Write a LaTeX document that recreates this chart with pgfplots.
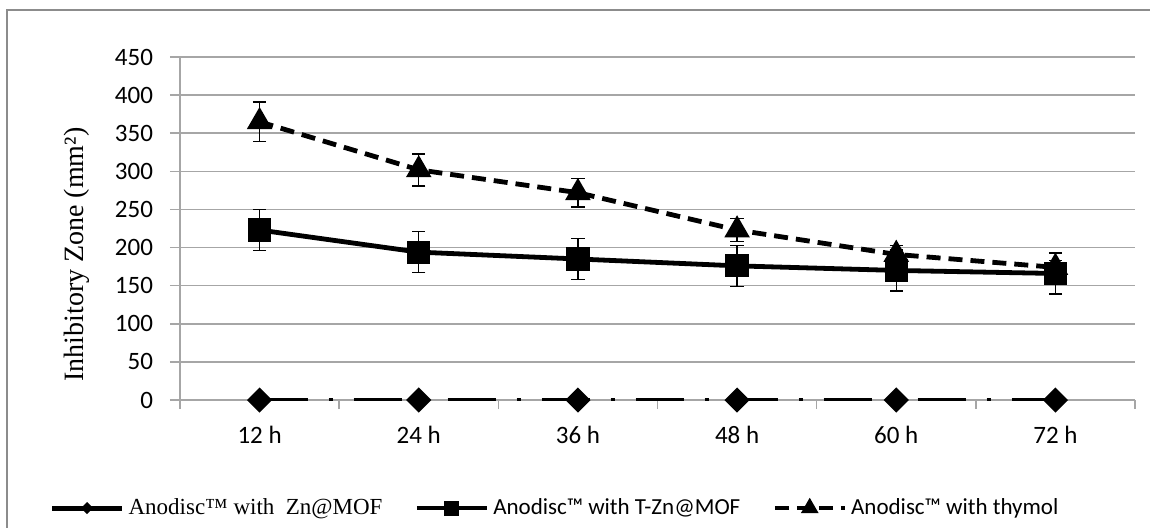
\documentclass[border=0pt]{standalone}
\usepackage{fontspec}
\setmainfont{Carlito}
\newfontfamily\timesfont{Liberation Serif}
\usepackage{pgfplots}
\pgfplotsset{compat=1.18}
\definecolor{gridgray}{HTML}{A6A6A6}
\definecolor{framegray}{HTML}{8C8C8C}
\begin{document}
\begin{tikzpicture}
\useasboundingbox (-90pt,-63.5pt) rectangle (485pt,200pt);
\draw[framegray, line width=1pt] (-86.5pt,-70pt) -- (-86.5pt,195pt) -- (490pt,195pt);
\begin{axis}[
  scale only axis, width=477.5pt, height=171.5pt,
  xmin=-0.5, xmax=5.5, ymin=0, ymax=450,
  axis x line*=bottom, axis y line*=left,
  axis line style={gridgray, line width=0.8pt, -},
  xtick={0,...,5}, xticklabels={12 h,24 h,36 h,48 h,60 h,72 h},
  minor xtick={-0.5,0.5,...,5.5},
  major x tick style={draw=none},
  minor x tick style={gridgray, line width=0.8pt},
  ytick={0,50,...,450},
  tick align=outside,
  major tick length=5pt, minor tick length=4.5pt,
  major y tick style={gridgray, line width=0.8pt},
  ymajorgrids, major grid style={gridgray, line width=0.8pt},
  tick label style={font=\fontsize{12.5}{15}\selectfont, /pgf/number format/assume math mode=true},
  xticklabel style={yshift=-4.5pt},
  yticklabel style={xshift=-5pt},
  ylabel={\timesfont\fontsize{14}{16}\selectfont Inhibitory Zone (mm²)},
  ylabel style={at={(axis description cs:-0.108,0.424)}, anchor=center},
  legend columns=3,
  legend style={at={(axis description cs:-0.137,-0.315)}, anchor=west, draw=none, fill=none,
    inner sep=0pt, font=\fontsize{11.5}{14}\selectfont,
    /tikz/every even column/.append style={column sep=14pt}},
  legend image code/.code={\draw[mark repeat=2,mark phase=2,#1] plot coordinates {(0pt,0pt) (17.5pt,0pt) (35pt,0pt)};},
  legend image post style={/tikz/every mark/.append style={scale=0.55}},
]
\addplot[black, line width=2.5pt, dash pattern=on 24pt off 10.5pt on 2pt off 10.5pt,
  mark=square*, mark size=3.2pt, mark options={solid, rotate=45},
  legend image post style={solid, /tikz/every mark/.append style={scale=0.5}}]
  coordinates {(0,0) (1,0) (2,0) (3,0) (4,0) (5,0)};
\addplot[black, line width=2.4pt, mark=square*, mark size=4.6pt, mark options={solid},
  error bars/.cd, y dir=both, y explicit,
  error bar style={line width=0.7pt, solid},
  error mark options={rotate=90, mark size=3.3pt, line width=0.7pt, solid}]
  coordinates {(0,223) +- (0,27) (1,194) +- (0,27) (2,185) +- (0,27)
               (3,176) +- (0,27) (4,170) +- (0,27) (5,166) +- (0,27)};
\addplot[black, line width=2.4pt, dash pattern=on 7pt off 4pt,
  mark=triangle*, mark size=5pt, mark options={solid},
  error bars/.cd, y dir=both, y explicit,
  error bar style={line width=0.7pt, solid},
  error mark options={rotate=90, mark size=3.3pt, line width=0.7pt, solid}]
  coordinates {(0,365) +- (0,26) (1,302) +- (0,21) (2,272) +- (0,19)
               (3,223) +- (0,15) (4,191) +- (0,12) (5,174) +- (0,9)};
\legend{{\timesfont\fontsize{11.5}{14}\selectfont Anodisc™ with\ \ Zn@MOF},
        Anodisc™ with T-Zn@MOF, Anodisc™ with thymol}
\end{axis}
\end{tikzpicture}
\end{document}
